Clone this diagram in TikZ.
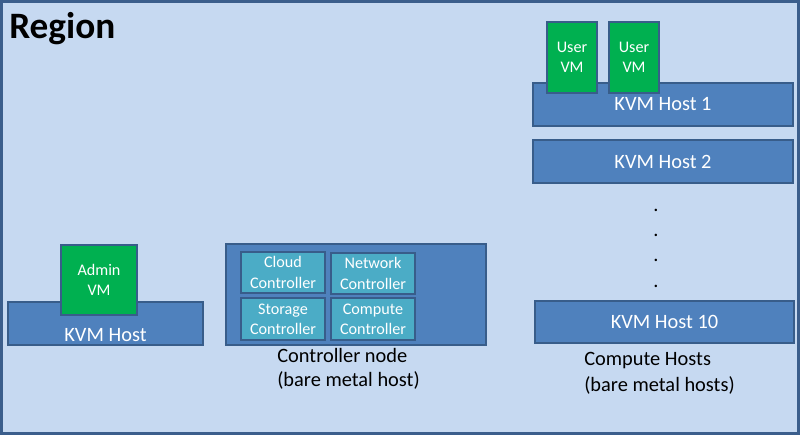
\documentclass[tikz,border=0pt]{standalone}
\usepackage{fontspec}
\setmainfont{Carlito}
\definecolor{regionbg}{HTML}{C6D9F1}
\definecolor{regionline}{HTML}{3B5E8C}
\definecolor{hostblue}{HTML}{4F81BD}
\definecolor{hostline}{HTML}{385D8A}
\definecolor{vmgreen}{HTML}{00B050}
\definecolor{ctrlteal}{HTML}{4BACC6}

\begin{document}
\begin{tikzpicture}[x=0.025cm,y=-0.025cm,
  box/.style={draw=hostline,line width=1.3pt,inner sep=0pt,text=white,align=center},
  host/.style={box,fill=hostblue,font=\fontsize{14.5}{17}\selectfont},
  vm/.style={box,fill=vmgreen,font=\fontsize{11.5}{14.5}\selectfont},
  ctrl/.style={box,fill=ctrlteal,font=\fontsize{11.5}{14.5}\selectfont},
  caption/.style={inner sep=0pt,align=left,font=\fontsize{14.5}{17.5}\selectfont}]
\useasboundingbox (0,0) rectangle (800,435);
% region frame
\draw[fill=regionbg,draw=regionline,line width=2.2pt] (1.5,1.5) rectangle (798.5,433.5);
\node[anchor=west,inner sep=0pt,font=\fontsize{26.5}{31}\selectfont\bfseries] (region) at (9,29) {Region};

% admin host
\node[host,minimum width=4.875cm,minimum height=1.075cm] (kvm) at (105.5,323.5) {};
\node[vm,minimum width=1.9cm,minimum height=1.75cm] (admin) at (99,280) {Admin\\VM};
\node[inner sep=0pt,text=white,font=\fontsize{14.5}{17}\selectfont] (kvmtext) at (105.5,335.5) {KVM Host};

% controller node
\node[host,minimum width=6.5cm,minimum height=2.525cm] (ctrlnode) at (356,294.5) {};
\node[ctrl,minimum width=2.1cm,minimum height=1.025cm] (cloud) at (283,272.5) {Cloud\\Controller};
\node[ctrl,minimum width=2.1cm,minimum height=1.025cm] (network) at (373,273.5) {Network\\Controller};
\node[ctrl,minimum width=2.1cm,minimum height=1.05cm] (storage) at (283,319) {Storage\\Controller};
\node[ctrl,minimum width=2.1cm,minimum height=1.05cm] (compute) at (373,319) {Compute\\Controller};
\node[caption,anchor=west] (ctrlcap) at (277,369) {Controller node\\(bare metal host)};

% compute hosts
\node[host,minimum width=6.5cm,minimum height=1.075cm] (host1) at (663,104.5) {KVM Host 1};
\node[vm,minimum width=1.25cm,minimum height=1.775cm] (user1) at (572,57.5) {User\\VM};
\node[vm,minimum width=1.25cm,minimum height=1.775cm] (user2) at (634,57.5) {User\\VM};
\node[host,minimum width=6.5cm,minimum height=1.075cm] (host2) at (663,161.5) {KVM Host 2};
\foreach \y [count=\i] in {211,236,261,287}
  \node[anchor=base,inner sep=0pt,font=\fontsize{14.5}{17}\selectfont] (dot\i) at (656,\y) {.};
\node[host,minimum width=6.475cm,minimum height=1.05cm] (host10) at (664.5,322) {KVM Host 10};
\node[caption,anchor=west,font=\fontsize{14.5}{18.5}\selectfont] (compcap) at (584,373) {Compute Hosts\\(bare metal hosts)};
\end{tikzpicture}
\end{document}
